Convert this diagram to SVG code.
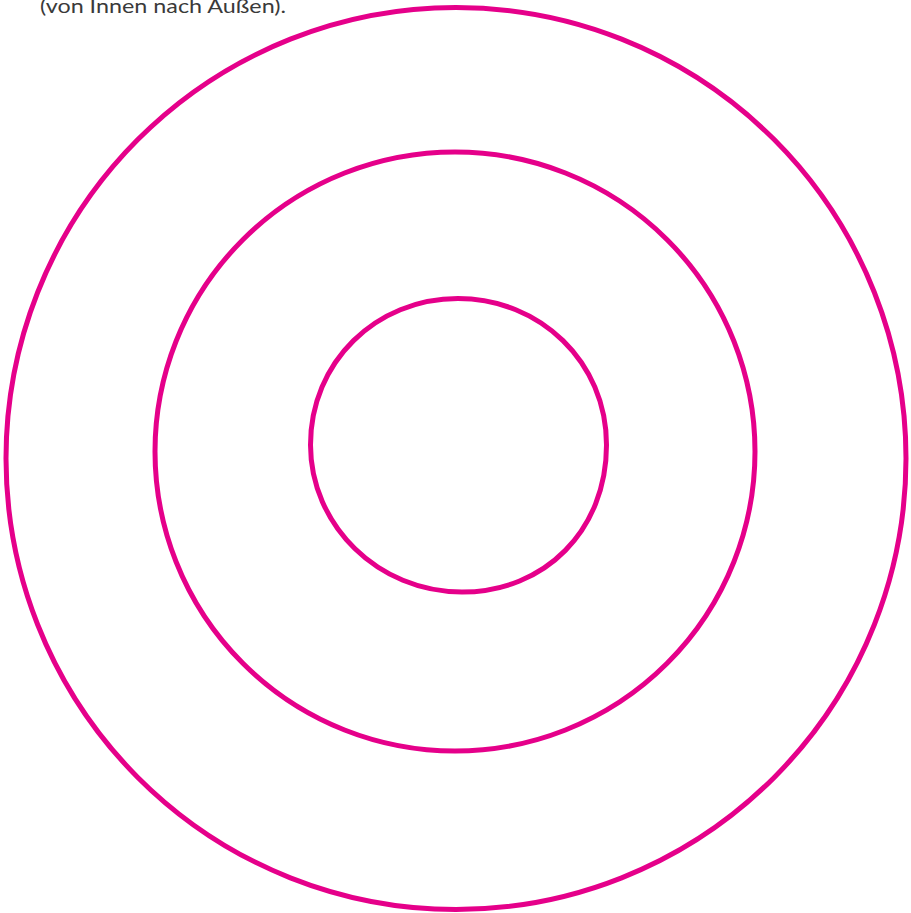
<svg xmlns="http://www.w3.org/2000/svg" width="911" height="913" viewBox="0 0 911 913">
<style>
.ring{fill:none;stroke:#E5008A;stroke-width:5}
.cap{font-family:Lato,"Open Sans","Liberation Sans",sans-serif;font-size:19px;fill:#3a3a3a}
</style>
<rect width="911" height="913" fill="#fff"/>
<text class="cap" x="40" y="13" textLength="246" lengthAdjust="spacingAndGlyphs">(von Innen nach Außen).</text>
<g id="outer"><ellipse class="ring" cx="456" cy="458.5" rx="450" ry="451"/></g>
<g id="middle"><ellipse class="ring" cx="455" cy="451.5" rx="300" ry="299.5"/></g>
<g id="inner"><path class="ring" d="M458,298.5 C540,298.5 606.5,362 606.5,445 C606.5,530 545,592 462,592 C378,592 310.5,525 310.5,445 C310.5,362 376,298.5 458,298.5 Z"/></g>
</svg>
